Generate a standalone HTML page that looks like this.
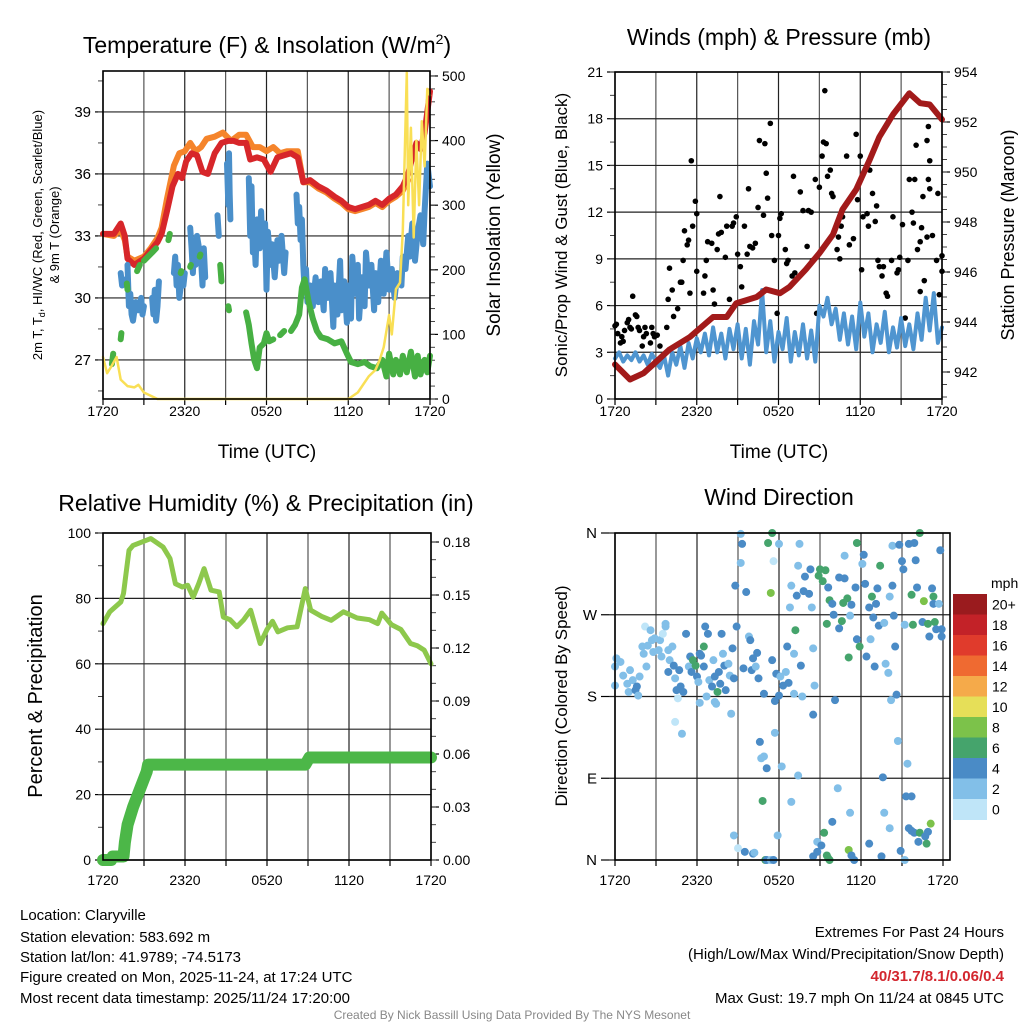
<!DOCTYPE html>
<html><head><meta charset="utf-8">
<style>
html,body{margin:0;padding:0;background:#fff;}
svg{display:block;font-family:"Liberation Sans",Arial,sans-serif;}
</style></head>
<body>
<svg id="fig" width="1024" height="1024" viewBox="0 0 1024 1024" xmlns="http://www.w3.org/2000/svg">
<rect x="0" y="0" width="1024" height="1024" fill="#fff"/>
<g id="layer"></g>
<text x="267" y="53" font-size="23" text-anchor="middle">Temperature (F) &amp; Insolation (W/m<tspan font-size="14" dy="-9">2</tspan><tspan dy="9">)</tspan></text>
<text x="779" y="45" font-size="23" text-anchor="middle">Winds (mph) &amp; Pressure (mb)</text>
<text x="266" y="511" font-size="23" text-anchor="middle">Relative Humidity (%) &amp; Precipitation (in)</text>
<text x="779" y="505" font-size="23" text-anchor="middle">Wind Direction</text>
<text x="267" y="458" font-size="19" text-anchor="middle">Time (UTC)</text>
<text x="779" y="458" font-size="19" text-anchor="middle">Time (UTC)</text>
<text transform="translate(42,235) rotate(-90)" font-size="13" text-anchor="middle">2m T, T<tspan font-size="9" dy="3">d</tspan><tspan dy="-3">, HI/WC (Red, Green, Scarlet/Blue)</tspan></text>
<text transform="translate(59,235) rotate(-90)" font-size="13" text-anchor="middle">&amp; 9m T (Orange)</text>
<text transform="translate(500,235) rotate(-90)" font-size="19" text-anchor="middle">Solar Insolation (Yellow)</text>
<text transform="translate(567,235) rotate(-90)" font-size="17" text-anchor="middle">Sonic/Prop Wind &amp; Gust (Blue, Black)</text>
<text transform="translate(1014,235) rotate(-90)" font-size="18" text-anchor="middle">Station Pressure (Maroon)</text>
<text transform="translate(42,696) rotate(-90)" font-size="20" text-anchor="middle">Percent &amp; Precipitation</text>
<text transform="translate(567,696) rotate(-90)" font-size="17" text-anchor="middle">Direction (Colored By Speed)</text>
<text x="991" y="588" font-size="14">mph</text>
<g font-size="15">
<text x="20" y="920">Location: Claryville</text>
<text x="20" y="942">Station elevation: 583.692 m</text>
<text x="20" y="962">Station lat/lon: 41.9789; -74.5173</text>
<text x="20" y="982">Figure created on Mon, 2025-11-24, at 17:24 UTC</text>
<text x="20" y="1003">Most recent data timestamp: 2025/11/24 17:20:00</text>
</g>
<g font-size="15" text-anchor="end">
<text x="1004" y="937">Extremes For Past 24 Hours</text>
<text x="1004" y="959">(High/Low/Max Wind/Precipitation/Snow Depth)</text>
<text x="1004" y="981" fill="#d3262e" font-weight="bold">40/31.7/8.1/0.06/0.4</text>
<text x="1004" y="1003">Max Gust: 19.7 mph On 11/24 at 0845 UTC</text>
</g>
<text x="512" y="1019" font-size="12" fill="#888" text-anchor="middle">Created By Nick Bassill Using Data Provided By The NYS Mesonet</text>
</svg>
<script>
// ---------- DATA ----------
const xTickLabels = ["1720","2320","0520","1120","1720"];
const tempTicks = [27,30,33,36,39];
const solarTicks = [0,100,200,300,400,500];
const windTicks = [0,3,6,9,12,15,18,21];
const presTicks = [942,944,946,948,950,952,954];
const rhTicks = [0,20,40,60,80,100];
const precipTicks = [0,0.03,0.06,0.09,0.12,0.15,0.18];
const precipTickLabels = ["0.00","0.03","0.06","0.09","0.12","0.15","0.18"];
const dirTicks = [0,90,180,270,360];
const dirTickLabels = ["N","E","S","W","N"];
const speedBins = ["0","2","4","6","8","10","12","14","16","18","20+"];

const redT = [0,0.8,1.3,1.6,1.8,2.3,3,3.5,4,4.3,4.7,5.1,5.5,5.8,6.1,6.5,6.9,7.3,7.7,8.2,8.7,9.2,9.6,10,10.5,10.8,11.3,11.8,12.3,12.8,13.3,13.8,14.3,14.7,15.2,15.8,16.4,17,17.5,18,18.5,19,19.5,20,20.5,21,21.5,22,22.4,22.7,23,23.3,23.6,24];
const redV = [33.1,33.1,33.6,33.0,31.9,31.6,31.9,32.3,32.7,33.1,34.2,35.4,36.0,35.8,36.6,37.0,36.9,36.1,36.0,37.0,37.5,37.6,37.6,37.5,37.5,36.7,36.8,36.7,36.1,36.8,36.9,37.0,36.8,35.6,35.7,35.4,35.2,34.9,34.7,34.4,34.3,34.4,34.5,34.7,34.5,34.8,35.0,35.4,36.0,36.8,37.5,37.2,38.0,40.0];
const orangeT = [0,0.8,1.3,1.6,1.8,2.3,3,3.5,4,4.3,4.7,5.2,5.6,6,6.4,6.8,7.2,7.6,8.2,8.8,9.4,10,10.5,11,11.5,12,12.5,13,13.5,14.3,14.7,15.2,15.8,16.4,17,17.5,18,18.5,19,19.5,20,20.5,21,21.5,22,22.4];
const orangeV = [33.1,33.0,33.3,32.8,32.0,31.8,32.0,32.4,32.9,33.4,34.8,36.4,37.0,37.1,37.5,37.1,37.3,37.7,37.8,38.0,37.6,37.9,37.9,37.3,37.3,37.1,37.3,37.0,37.1,37.1,35.6,35.6,35.3,35.1,34.8,34.6,34.3,34.2,34.3,34.4,34.6,34.4,34.7,34.9,35.2,35.7];
const wcT = [1.3,1.4,1.5,null,1.8,1.9,2.0,2.1,2.2,2.4,2.6,2.8,2.9,3.0,null,3.6,3.7,3.8,3.9,4.0,4.1,null,5.2,5.3,5.4,5.5,5.6,5.8,5.9,6.0,null,6.4,6.5,6.6,6.7,6.8,6.9,7.0,7.2,7.3,7.4,7.5,null,8.4,8.5,null,9.1,9.2,9.25,9.3,9.35,null,10.7,10.8,10.9,11.0,11.1,11.2,11.3,11.5,11.6,11.7,11.9,12.0,12.1,12.3,12.4,12.6,12.8,12.9,13.1,13.3,13.4,null,14.2,14.3,14.4,14.5,14.6,14.7,14.8,14.9,15.0,15.2,15.4,15.6,15.8,16.0,16.2,16.3,16.5,16.7,16.9,17.0,17.2,17.4,17.5,17.7,17.9,18.0,18.2,18.3,18.5,18.7,18.8,19.0,19.2,19.3,19.5,19.7,19.9,20.0,20.2,20.4,20.6,20.8,21.0,21.2,21.4,21.6,21.9,22.0,22.2,22.4,22.5,22.7,22.9,23.1,23.3,23.5,23.6,23.8,24.0];
const wcV = [31.2,30.6,30.9,null,31.6,29.6,30.2,29.2,28.9,29.8,29.4,30.0,29.2,29.6,null,30.0,29.2,30.4,28.9,29.6,30.8,null,31.2,32.0,30.6,31.6,30.0,31.0,30.6,31.2,null,33.4,32.4,31.2,32.8,31.6,33.0,32.6,31.8,30.6,32.4,31.0,null,34.0,33.0,null,36.5,34.5,37.0,35.0,33.8,null,35.8,33.0,35.4,32.2,33.0,31.6,33.8,32.4,34.2,32.6,33.6,30.4,33.2,31.6,32.6,31.0,32.8,31.8,33.0,31.2,32.2,null,35.0,33.6,34.4,32.8,33.8,31.6,30.4,31.4,29.8,30.6,29.6,31.0,29.8,30.8,29.4,31.4,30.0,31.2,28.6,30.6,29.2,31.8,29.4,30.8,28.8,30.6,29.0,32.0,30.2,31.6,29.0,31.0,29.6,32.2,30.6,31.6,29.4,31.2,29.8,31.8,30.2,32.2,30.4,31.4,30.0,31.2,30.6,32.0,31.4,33.0,32.0,33.6,31.8,33.2,34.0,32.6,34.2,36.5,35.4];
const dewT = [0.65,0.75,null,1.3,1.35,null,1.75,1.8,null,2.5,2.7,null,3.0,3.3,3.6,3.9,null,4.8,4.9,null,5.7,5.75,null,6.4,6.45,null,7.1,7.15,null,8.6,8.7,null,9.2,9.25,null,10.5,10.7,10.9,11.1,11.3,11.5,11.8,12.0,12.2,12.5,null,13.0,13.3,null,13.8,14.1,14.4,14.6,14.8,15.1,15.4,15.7,16.0,16.5,17.0,17.5,17.9,18.2,18.7,19.2,19.6,20.1,20.5,20.8,21.0,21.3,21.5,21.8,22.0,22.3,22.6,22.9,23.1,23.3,23.6,23.8,24.0];
const dewV = [26.8,27.3,null,28.0,28.3,null,30.7,30.4,null,31.3,31.6,null,31.8,32.0,32.2,32.4,null,32.8,33.1,null,31.2,31.3,null,31.5,31.6,null,32.0,32.1,null,31.6,30.8,null,29.6,29.4,null,29.3,28.7,27.8,27.0,26.6,27.6,27.8,28.3,27.9,28.0,null,28.2,28.4,null,28.4,28.7,29.2,30.5,30.9,29.8,29.0,28.4,28.1,28.0,27.8,27.9,27.3,26.9,26.8,26.9,26.7,26.6,27.0,26.2,27.3,26.3,27.0,26.3,27.2,26.4,27.4,26.2,27.2,26.3,27.0,26.4,27.2];
const solarT = [0,0.3,0.6,1,1.3,1.8,2.3,2.6,3,3.5,4,18,18.7,19.5,20,20.3,20.6,21,21.2,21.5,21.8,22,22.3,22.4,22.6,22.8,23,23.2,23.4,23.6,23.8,24];
const solarV = [65,40,50,65,30,20,18,22,10,5,0,0,10,35,45,60,80,130,100,170,180,260,505,300,420,250,400,300,430,360,480,470];

const presT = [0,1.1,2.1,3,4,5.5,7.2,8.2,8.9,10.4,11.1,12.1,12.8,14,15,16,16.7,17.7,18.7,19.4,20.4,21.6,22.4,23.1,24];
const presV = [942.3,941.7,941.95,942.4,942.9,943.4,944.2,944.2,944.75,945.0,945.3,945.15,945.4,946.1,946.75,947.5,948.5,949.3,950.5,951.4,952.3,953.15,952.75,952.7,952.1];
const sonicV = [2.6,3.0,2.4,2.8,2.5,3.0,2.4,2.8,2.2,2.9,2.4,2.0,2.8,1.5,3.0,2.2,3.4,2.0,3.6,2.6,3.9,3.0,4.2,2.8,4.6,3.0,4.2,2.6,4.5,3.2,4.8,2.6,4.5,2.2,5.0,3.5,7.0,3.0,5.0,2.4,4.3,3.2,5.2,2.4,4.3,2.8,4.8,2.6,4.4,2.4,6.0,5.3,6.5,4.8,5.8,3.8,5.5,3.5,5.3,3.2,6.2,4.0,5.5,3.0,4.8,3.6,5.6,3.0,4.6,3.3,5.2,3.4,4.8,3.2,5.5,3.8,6.5,4.4,6.8,3.6,4.6];
const sonicStep = 0.3;
const gustT = [0.0,0.1,0.2,0.4,0.5,0.6,0.7,0.9,1.0,1.1,1.2,1.3,1.5,1.6,1.7,1.8,2.0,2.1,2.2,2.3,2.6,2.7,2.8,2.9,3.1,3.3,3.8,3.9,4.0,4.2,4.3,4.6,4.8,4.9,5.0,5.1,5.3,5.4,5.5,5.6,5.7,5.9,6.0,6.0,6.5,6.6,6.7,6.8,7.1,7.2,7.3,7.5,7.6,7.7,7.8,8.1,8.2,8.4,8.6,8.7,8.9,9.0,9.2,9.3,9.5,9.7,9.8,9.9,10.1,10.3,10.5,10.6,10.9,11.0,11.1,11.2,11.4,11.5,11.7,11.9,12.0,12.1,12.2,12.5,12.6,12.7,13.0,13.1,13.2,13.6,13.8,14.1,14.2,14.4,14.5,14.7,14.8,15.0,15.2,15.3,15.4,15.5,15.6,15.8,15.9,16.0,16.3,16.4,16.5,16.6,16.7,17.0,17.2,17.5,17.7,17.8,18.0,18.1,18.2,18.5,18.6,18.7,18.9,19.1,19.2,19.3,19.4,19.6,19.7,19.9,20.0,20.3,20.4,20.7,20.8,20.9,21.1,21.3,21.5,21.6,21.8,21.9,22.0,22.1,22.2,22.4,22.5,22.6,22.7,22.9,22.9,23.0,23.1,23.3,23.6,23.7,23.8,24.0,24.0,22.4,23.0,23.1];
const gustV = [4.7,4.8,4.2,3.6,4.0,3.7,4.4,4.9,5.1,4.6,4.5,6.6,5.4,5.3,4.6,4.4,3.4,4.0,4.6,4.2,3.6,4.6,4.2,4.0,4.1,3.4,4.6,6.4,8.4,7.0,5.3,5.8,7.5,7.5,8.9,10.8,9.9,10.2,6.8,15.3,11.1,12.7,11.9,8.2,6.8,7.9,8.9,10.1,10.0,7.0,6.1,9.6,10.6,13.0,10.7,9.1,11.1,6.4,11.1,11.3,11.7,9.3,8.5,7.2,11.1,9.3,13.5,9.8,9.7,10.0,12.3,16.6,11.8,16.4,14.5,12.9,17.7,10.5,8.9,5.5,10.5,11.6,11.9,9.6,8.7,8.9,7.9,14.3,8.1,13.3,12.1,9.8,12.1,12.0,8.9,14.1,5.5,13.6,15.6,16.5,19.8,16.4,14.3,14.7,13.2,13.0,9.6,10.4,9.0,11.1,11.7,15.6,9.9,10.3,17.0,12.8,15.6,8.3,11.7,11.9,11.1,14.7,13.2,11.4,12.4,8.9,8.5,7.9,8.5,6.8,6.6,8.9,11.7,8.1,8.3,9.1,11.2,5.2,8.9,14.1,12.0,11.3,14.1,16.3,9.6,10.1,11.0,13.0,7.6,10.4,16.6,17.5,13.5,10.5,8.9,13.2,6.7,9.2,8.2,6.9,14.1,15.3];

const rhT = [0,0.5,1.3,1.5,1.9,2.2,3.5,4.4,4.9,5.3,5.8,6.2,6.6,7.0,7.4,7.9,8.5,8.8,9.3,9.8,10.3,10.8,11.5,12.0,12.4,12.8,13.5,14.2,14.8,15.2,16.0,16.7,17.6,18.6,19.5,20.1,20.4,21.1,21.8,22.5,23.0,23.5,24];
const rhV = [72.3,75.9,78.9,81.5,94.7,96.2,98.3,95.7,92.2,84.5,83.5,84.0,80.4,84.5,89.1,82.5,82.0,74.3,73.5,71.3,73.5,76.4,66.2,70.5,73.0,69.8,71.0,71.3,83.0,76.4,74.5,73.3,75.9,74.0,73.5,72.3,75.5,72.0,70.5,66.2,65.5,64.2,60.0];
const precipT = [0,0.6,0.7,1.5,1.6,1.8,2.2,2.7,3.2,3.3,14.8,15.1,24];
const precipV = [0,0,0.002,0.002,0.01,0.02,0.03,0.04,0.05,0.054,0.054,0.058,0.058];

const dirT = [0.0,0.0,0.1,0.4,0.6,0.9,1.0,1.1,1.3,1.5,1.6,1.7,1.8,2.0,2.1,2.2,2.3,2.4,2.6,2.7,2.8,2.9,3.2,3.3,3.4,3.5,3.7,3.7,3.9,4.0,4.2,3.9,4.3,4.4,4.5,4.6,4.4,4.7,4.8,4.9,5.0,5.2,5.4,5.5,5.6,5.7,5.9,6.0,6.1,6.2,6.2,6.3,6.5,6.5,6.6,6.7,6.8,6.9,7.1,7.2,7.3,7.3,7.4,7.5,7.6,7.7,7.8,7.9,8.0,8.1,8.3,8.4,8.5,8.6,8.7,8.9,8.8,9.2,9.3,9.2,9.4,9.6,9.8,9.9,10.0,10.1,10.3,10.4,10.5,10.6,10.7,10.9,10.9,11.1,11.2,11.4,11.5,11.5,11.6,11.7,11.7,11.8,12.0,12.0,12.1,12.2,12.3,12.5,12.6,12.7,12.8,12.9,13.1,13.1,13.2,13.3,13.4,13.4,13.5,13.6,13.7,13.8,13.9,14.2,14.3,14.4,14.5,14.5,14.6,14.9,15.0,15.2,15.4,15.5,15.6,15.7,15.9,16.0,16.1,16.3,16.4,16.4,16.6,16.7,16.8,16.8,17.0,17.1,17.2,17.3,17.6,17.7,17.7,17.9,18.1,18.2,18.3,18.4,18.6,18.7,18.8,18.9,19.0,19.1,19.2,19.3,19.4,19.7,19.8,20.0,20.1,20.2,20.3,20.3,20.4,20.5,20.6,20.7,20.8,21.0,21.1,21.2,21.4,21.5,21.7,21.8,21.9,22.0,22.1,22.3,22.5,22.6,22.9,23.0,23.2,23.3,23.3,23.4,23.5,23.7,23.8,23.9,23.9,8.7,9.0,9.5,10.1,10.2,10.8,11.0,11.1,11.4,11.9,11.6,12.9,14.5,14.8,14.8,15.1,15.3,15.5,15.6,15.7,15.9,17.1,17.2,17.3,17.5,18.6,19.5,19.6,19.7,20.1,20.9,21.2,21.3,21.7,21.5,21.7,21.9,22.2,22.3,22.7,22.8,22.9,23.1];
const dirV = [213,192,222,218,203,194,185,209,198,187,191,181,202,235,227,257,213,236,253,242,229,244,231,242,224,249,260,257,231,220,235,207,214,200,187,178,152,209,191,139,185,249,213,224,207,220,214,202,196,227,173,225,213,235,257,180,249,198,191,220,174,202,172,185,207,194,249,227,214,187,216,203,161,233,200,257,302,359,348,327,211,295,246,242,209,222,213,228,200,130,112,114,183,101,349,294,360,220,329,175,140,205,181,348,202,103,192,207,235,195,278,302,227,183,253,291,324,93,348,214,180,296,312,293,320,278,160,233,192,313,320,307,319,260,300,286,282,270,176,79,255,311,263,283,310,335,288,223,269,281,300,349,243,235,326,336,304,224,278,243,290,267,213,282,299,258,324,261,216,206,290,176,302,346,269,235,182,131,347,329,320,259,106,348,292,259,349,330,300,360,262,285,260,246,299,290,282,262,254,282,341,254,246,27,13,9,7,8,65,0,0,0,27,0,64,4,20,9,16,30,5,2,0,42,11,52,5,0,18,4,91,52,35,10,0,70,70,35,32,30,20,30,26,18,31,40];
const dirSpeed = [2,2,2,2,2,2,2,2,2,4,4,2,2,2,2,0.8,2,2,2,2,2,2,2,2,2,0.8,2,2,2,2,2,4,4,2,4,0.8,0.8,4,4,2,4,4,2,4,4,6,6,4,2,4,2,4,4,6,4,2,4,2,4,2,2,4,2,6,4,4,4,2,4,4,2,2,2,4,4,4,4,2,4,2,4,4,2,4,4,4,2,4,4,4,2,2,4,4,6,8,6,4,0.8,4,2,4,4,2,2,2,4,2,4,4,2,2,2,2,6,4,2,2,2,4,2,4,4,4,4,2,4,2,2,6,6,6,6,6,4,6,4,4,4,2,4,4,6,6,4,2,6,6,2,4,4,6,4,6,2,4,4,4,4,2,6,4,4,4,4,4,6,2,2,2,2,2,4,2,4,4,4,2,4,4,4,2,2,4,6,6,4,4,4,6,4,8,6,4,4,6,4,6,4,2,4,4,4,2,0.8,4,4,2,6,6,4,2,2,4,2,4,2,4,4,6,6,6,6,4,8,2,4,4,4,4,4,2,2,4,2,4,4,4,4,4,4,6,4,6,4,8];

// ---------- HELPERS ----------
const NS = "http://www.w3.org/2000/svg";
const layer = document.getElementById('layer');
function mk(tag, attrs, parent){
  const e = document.createElementNS(NS, tag);
  for (const k in attrs) e.setAttribute(k, attrs[k]);
  (parent||layer).appendChild(e);
  return e;
}
function linear(d0,d1,r0,r1){ return v => r0 + (v-d0)/(d1-d0)*(r1-r0); }
function pathD(ts, vs, sx, sy){
  let d = "", pen = false;
  for (let i=0;i<ts.length;i++){
    if (ts[i]===null || vs[i]===null){ pen=false; continue; }
    d += (pen?"L":"M") + sx(ts[i]).toFixed(1) + "," + sy(vs[i]).toFixed(1);
    pen = true;
  }
  return d;
}
const tickColor = "#000";

function panel(name, x0, x1, y0, y1, sx, labelOff){
  const g = mk('g', {});
  
  
  for (let h=0; h<=24; h+=3){
    const x = sx(h);
    const gl = mk('line', {x1:x, x2:x, y1:y0, y2:y1, stroke:(h%6===0?"#222":"#555"), 'stroke-width':1.2}, g);
    
    
    const tk = mk('line', {x1:x, x2:x, y1:y1, y2:y1+6, stroke:tickColor, 'stroke-width':1.2}, g);
    
    
  }
  for (let i=0;i<xTickLabels.length;i++){
    const t = mk('text', {x:sx(i*6), y:y1+labelOff, 'font-size':14, 'text-anchor':'middle'}, g);
    
    
    t.textContent = xTickLabels[i];
  }
  return g;
}
function hAxis(g, vals, labels, sy, x0, x1, side, minorStep, lo, hi, grid, fontSize){
  for (let i=0;i<vals.length;i++){
    const y = sy(vals[i]);
    if (grid){
      const gl = mk('line', {x1:x0, x2:x1, y1:y, y2:y, stroke:"#222", 'stroke-width':1.2}, g);
      
      
    }
    const xa = side==='left'? x0 : x1;
    const dir = side==='left'? -1 : 1;
    const tk = mk('line', {x1:xa, x2:xa+dir*8, y1:y, y2:y, stroke:tickColor, 'stroke-width':1.2}, g);
    
    
    const tx = mk('text', {x:xa+dir*12, y:y+5, 'font-size':fontSize||14, 'text-anchor':side==='left'?'end':'start'}, g);
    
    
    tx.textContent = labels[i];
  }
  if (minorStep){
    for (let v=lo; v<=hi+1e-9; v+=minorStep){
      const y = sy(v);
      const xa = side==='left'? x0 : x1;
      const dir = side==='left'? -1 : 1;
      const mt = mk('line', {x1:xa, x2:xa+dir*5, y1:y, y2:y, stroke:"#444", 'stroke-width':1}, g);
      
      
    }
  }
}
function frame(g, x0,x1,y0,y1){
  const r = mk('rect', {x:x0, y:y0, width:x1-x0, height:y1-y0, fill:'none', stroke:'#000', 'stroke-width':1.6}, g);
  
  
}
function series(g, name, ts, vs, sx, sy, color, width){
  const p = mk('path', {d:pathD(ts,vs,sx,sy), fill:'none', stroke:color, 'stroke-width':width, 'stroke-linecap':'round', 'stroke-linejoin':'round'}, g);
  
  
  return p;
}

// ---------- PANEL 1: Temperature ----------
{
  const x0=103,x1=430,y0=71,y1=399;
  const sx = linear(0,24,x0,x1);
  const sT = linear(25.11,40.98,y1,y0);
  const sS = linear(0,507.7,y1,y0);
  const g = panel('temperature-chart', x0,x1,y0,y1,sx,17);
  hAxis(g, tempTicks, tempTicks.map(String), sT, x0, x1, 'left', 1.5, 25.5, 40.5, true, 15);
  hAxis(g, solarTicks, solarTicks.map(String), sS, x0, x1, 'right', 20, 0, 500, false, 14);
  series(g, 'orange-9m-temp-line', orangeT, orangeV, sx, sT, '#f5842b', 6);
  series(g, 'red-2m-temp-line', redT, redV, sx, sT, '#d7262a', 6);
  series(g, 'blue-windchill-line', wcT, wcV, sx, sT, '#4a8fca', 6);
  series(g, 'green-dewpoint-line', dewT, dewV, sx, sT, '#47b043', 6);
  series(g, 'yellow-solar-line', solarT, solarV, sx, sS, '#f9df55', 2.5);
  frame(g, x0,x1,y0,y1);
}
// ---------- PANEL 2: Winds ----------
{
  const x0=615,x1=942,y0=72,y1=399;
  const sx = linear(0,24,x0,x1);
  const sW = linear(0,21,y1,y0);
  const sP = linear(940.92,954,y1,y0);
  const g = panel('wind-chart', x0,x1,y0,y1,sx,17);
  hAxis(g, windTicks, windTicks.map(String), sW, x0, x1, 'left', 1.5, 0, 21, true, 14);
  hAxis(g, presTicks, presTicks.map(String), sP, x0, x1, 'right', 0.5, 941, 954, false, 14);
  for (let i=0;i<gustT.length;i++){
    const c = mk('circle', {cx:sx(gustT[i]), cy:sW(gustV[i]), r:2.8, fill:'#000'}, g);
    
    
  }
  const sonicT = sonicV.map((v,i)=>i*sonicStep);
  series(g, 'sonic-wind-line', sonicT, sonicV, sx, sW, '#4f95d0', 4);
  series(g, 'pressure-line', presT, presV, sx, sP, '#a21a1a', 6);
  frame(g, x0,x1,y0,y1);
}
// ---------- PANEL 3: RH & Precip ----------
{
  const x0=103,x1=431,y0=533,y1=860;
  const sx = linear(0,24,x0,x1);
  const sR = linear(0,100,y1,y0);
  const sPr = linear(0,0.1851,y1,y0);
  const g = panel('humidity-chart', x0,x1,y0,y1,sx,25);
  hAxis(g, rhTicks, rhTicks.map(String), sR, x0, x1, 'left', 10, 0, 100, true, 14);
  hAxis(g, precipTicks, precipTickLabels, sPr, x0, x1, 'right', 0.01, 0, 0.18, false, 14);
  series(g, 'relative-humidity-line', rhT, rhV, sx, sR, '#8dc84c', 5);
  series(g, 'precipitation-line', precipT, precipV, sx, sPr, '#4cb748', 12);
  frame(g, x0,x1,y0,y1);
}
// ---------- PANEL 4: Wind Direction ----------
{
  const x0=615,x1=950,y0=533,y1=860;
  const sx = linear(0,24,x0,943);
  const sD = linear(0,360,y1,y0);
  const g = panel('direction-chart', x0,x1,y0,y1,sx,25);
  hAxis(g, dirTicks, dirTickLabels, sD, x0-6, x1, 'left', 0, 0, 0, true, 15);
  const colors = ['#bfe5f8','#82bfe8','#4a8bc6','#45a46c','#7cc24a','#e6df58','#f5aa4a','#ef6a31','#e03b2c','#c32228','#9a1b1e'];
  for (let i=0;i<dirT.length;i++){
    const bin = Math.min(10, Math.round(dirSpeed[i]/2));
    const c = mk('circle', {cx:sx(dirT[i]), cy:sD(dirV[i]), r:4, fill:colors[bin]}, g);
    
    
  }
  frame(g, x0,x1,y0,y1);
  const cb = mk('g', {});
  
  
  const top=594, bh=20.5;
  for (let i=0;i<speedBins.length;i++){
    const k = speedBins.length-1-i;
    const r = mk('rect', {x:953, y:top+i*bh, width:34, height:bh+0.5, fill:colors[k]}, cb);
    
    
    const t = mk('text', {x:992, y:top+i*bh+bh/2+5, 'font-size':14}, cb);
    
    
    t.textContent = speedBins[k];
  }
}
</script>
</body></html>
